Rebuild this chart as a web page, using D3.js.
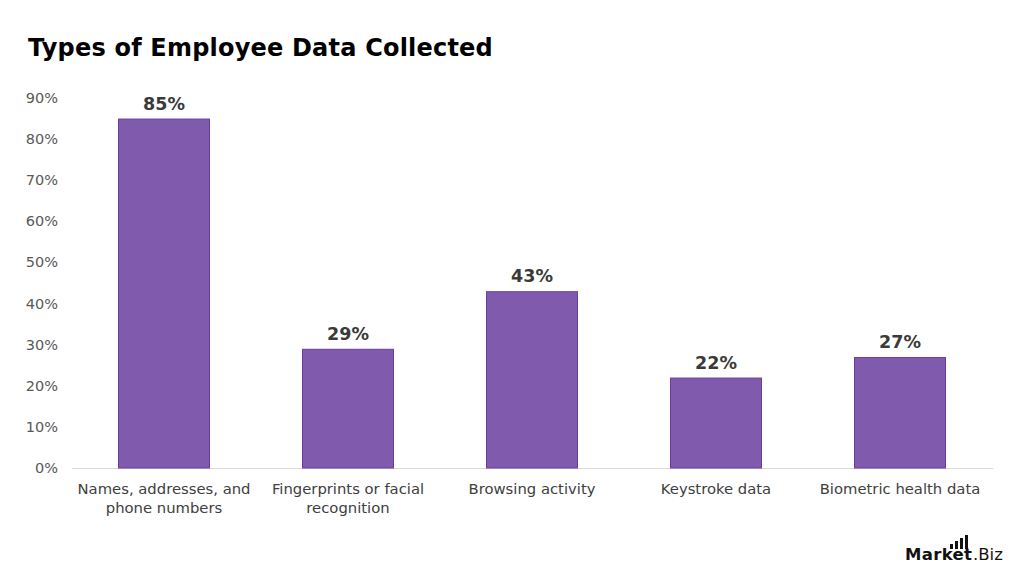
<!DOCTYPE html>
<html><head><meta charset="utf-8">
<script src="https://cdn.jsdelivr.net/npm/d3@7"></script>
<style>body{margin:0;background:#fff}svg{display:block}</style>
</head><body>
<svg id="c" width="1024" height="576"></svg>
<script>
const categories = [["Names, addresses, and","phone numbers"],["Fingerprints or facial","recognition"],["Browsing activity"],["Keystroke data"],["Biometric health data"]];
const values = [85, 29, 43, 22, 27];
const yTicks = [0,10,20,30,40,50,60,70,80,90];

const svg = d3.select("#c");
const font = "'DejaVu Sans', sans-serif";
const x = d3.scaleBand().domain(d3.range(categories.length)).range([72, 992]).paddingInner(0.5).paddingOuter(0.25);
const y = d3.scaleLinear().domain([0, 90]).range([468, 98]);

svg.append("text").attr("x", 28).attr("y", 56).attr("font-family", font).attr("font-weight", "bold")
  .attr("font-size", 24).attr("fill", "#000").attr("letter-spacing", "0.2").text("Types of Employee Data Collected");

svg.append("g").selectAll("text").data(yTicks).join("text")
  .attr("x", 58).attr("y", d => y(d) + 5).attr("text-anchor", "end")
  .attr("font-family", font).attr("font-size", 14.5).attr("fill", "#595959").text(d => d + "%");

svg.append("line").attr("x1", 72).attr("x2", 993).attr("y1", 468.5).attr("y2", 468.5).attr("stroke", "#d9d9d9");

svg.append("g").selectAll("rect").data(values).join("rect")
  .attr("x", (d,i) => x(i) + 0.5).attr("width", x.bandwidth() - 1)
  .attr("y", d => y(d) + 0.5).attr("height", d => y(0) - y(d) - 0.5)
  .attr("fill", "#7f5aad").attr("stroke", "#6a3d9e").attr("stroke-width", 1);

svg.append("g").selectAll("text").data(values).join("text")
  .attr("x", (d,i) => x(i) + x.bandwidth()/2).attr("y", d => y(d) - 9)
  .attr("text-anchor", "middle").attr("font-family", font).attr("font-weight", "bold")
  .attr("font-size", 17.5).attr("fill", "#3a3a3a").text(d => d + "%");

const xl = svg.append("g").selectAll("text").data(categories).join("text")
  .attr("x", (d,i) => x(i) + x.bandwidth()/2).attr("y", 494)
  .attr("text-anchor", "middle").attr("font-family", font).attr("font-size", 14.8).attr("fill", "#404040");
xl.selectAll("tspan").data(d => d).join("tspan")
  .attr("x", function(){ return this.parentNode.getAttribute("x"); })
  .attr("dy", (d,i) => i === 0 ? 0 : 19).text(d => d);

// logo
const lg = svg.append("g");
lg.append("text").attr("x", 905).attr("y", 560).attr("font-family", font).attr("font-weight", "bold")
  .attr("font-size", 16.5).attr("fill", "#111").attr("textLength", 67).text("Market");
lg.append("text").attr("x", 973).attr("y", 560).attr("font-family", font)
  .attr("font-size", 16.5).attr("fill", "#111").text(".Biz");
[[950,544,3,5],[955,541,3,8],[960,538,3,11],[965,535,3,14]].forEach(r => lg.append("rect").attr("x", r[0]).attr("y", r[1]).attr("width", r[2]).attr("height", r[3]).attr("fill", "#111"));
</script>
</body></html>
